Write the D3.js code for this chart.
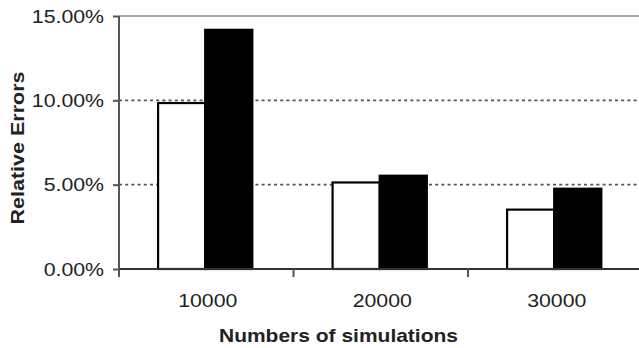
<!DOCTYPE html>
<html>
<head>
<meta charset="utf-8">
<script src="https://cdn.jsdelivr.net/npm/d3@7/dist/d3.min.js"></script>
<style>
  html, body { margin: 0; padding: 0; background: #fff; }
  svg { display: block; }
  text { font-family: "Liberation Sans", Arial, Helvetica, sans-serif; fill: #222; }
</style>
</head>
<body>
<svg id="chart" width="639" height="348"></svg>
<script>
// Relative errors by number of simulations, two methods
const categories = ["10000", "20000", "30000"];
const seriesNames = ["open", "solid"];
const openValues  = [0.0984, 0.0513, 0.0352];
const solidValues = [0.1418, 0.0553, 0.0476];
const yTicks = [0, 0.05, 0.10, 0.15];
const yTitle = "Relative Errors";
const xTitle = "Numbers of simulations";

const svg = d3.select("#chart");
const W = 639, H = 348;
const plot = { left: 119, top: 16, bottom: 269, right: 639 };
const bandStep = 174.5;

const y = d3.scaleLinear().domain([0, 0.15]).range([plot.bottom, plot.top]);
const x = d3.scaleBand().domain(categories)
  .range([plot.left, plot.left + bandStep * categories.length])
  .paddingInner(0).paddingOuter(0);
const xInner = d3.scaleBand().domain(seriesNames)
  .range([x.bandwidth() * 0.224, x.bandwidth() * 0.764])
  .paddingInner(0);

// widen glyphs slightly to the chart's lettering
const STRETCH = 1.12;
function stretch(sel) {
  sel.each(function () {
    const len = this.getComputedTextLength();
    d3.select(this).attr("textLength", len * STRETCH).attr("lengthAdjust", "spacingAndGlyphs");
  });
}

// top border
svg.append("line")
  .attr("x1", plot.left).attr("x2", plot.right)
  .attr("y1", y(0.15)).attr("y2", y(0.15))
  .attr("stroke", "#aaa").attr("stroke-width", 2);

// dashed gridlines
svg.append("g").selectAll("line")
  .data(yTicks.filter(d => d > 0 && d < 0.15))
  .join("line")
  .attr("x1", plot.left).attr("x2", plot.right)
  .attr("y1", d => y(d)).attr("y2", d => y(d))
  .attr("stroke", "#555").attr("stroke-width", 1.6)
  .attr("stroke-dasharray", "3,3.2");

// bars
const rows = categories.map((c, i) => ({ cat: c, vals: [
  { key: "open", v: openValues[i] },
  { key: "solid", v: solidValues[i] }
]}));

const groups = svg.append("g").selectAll("g")
  .data(rows).join("g")
  .attr("transform", d => `translate(${x(d.cat)},0)`);

groups.selectAll("rect")
  .data(d => d.vals).join("rect")
  .attr("x", d => xInner(d.key))
  .attr("width", xInner.bandwidth())
  .attr("y", d => y(d.v))
  .attr("height", d => y(0) - y(d.v))
  .attr("fill", d => d.key === "open" ? "#fff" : "#000")
  .attr("stroke", "#000")
  .attr("stroke-width", 2.2);

// y axis
const yAxis = svg.append("g")
  .attr("transform", `translate(${plot.left},0)`)
  .call(d3.axisLeft(y).tickValues(yTicks).tickFormat(d3.format(".2%")).tickSize(6).tickPadding(9));
yAxis.select(".domain").attr("stroke", "#555").attr("stroke-width", 2)
  .attr("d", `M0,${y(0.15)}V${plot.bottom + 7}`);
yAxis.selectAll(".tick line").attr("stroke", "#555").attr("stroke-width", 2);
yAxis.selectAll(".tick text")
  .attr("font-size", 19).attr("fill", "#222")
  .style("font-family", "'Liberation Sans', Arial, sans-serif")
  .call(stretch);

// x axis: baseline, boundary ticks, centered labels
svg.append("line")
  .attr("x1", plot.left).attr("x2", plot.right)
  .attr("y1", y(0)).attr("y2", y(0))
  .attr("stroke", "#333").attr("stroke-width", 2.2);

const boundaries = categories.map(c => x(c)).concat([x(categories[categories.length - 1]) + x.bandwidth()]);
svg.append("g").selectAll("line")
  .data(boundaries.filter(b => b <= plot.right))
  .join("line")
  .attr("x1", d => d).attr("x2", d => d)
  .attr("y1", y(0)).attr("y2", y(0) + 8)
  .attr("stroke", "#555").attr("stroke-width", 2);

svg.append("g").selectAll("text")
  .data(categories).join("text")
  .attr("x", d => x(d) + x.bandwidth() / 2 + 1.5)
  .attr("y", 307)
  .attr("text-anchor", "middle")
  .attr("font-size", 19)
  .text(d => d)
  .call(stretch);

// axis titles
svg.append("text")
  .attr("transform", "translate(24,148) rotate(-90)")
  .attr("text-anchor", "middle")
  .attr("font-size", 19)
  .attr("font-weight", "bold")
  .attr("textLength", 153).attr("lengthAdjust", "spacingAndGlyphs")
  .text(yTitle);

svg.append("text")
  .attr("x", 338.5).attr("y", 342)
  .attr("text-anchor", "middle")
  .attr("font-size", 18.5)
  .attr("font-weight", "bold")
  .attr("textLength", 239).attr("lengthAdjust", "spacingAndGlyphs")
  .text(xTitle);
</script>
</body>
</html>
